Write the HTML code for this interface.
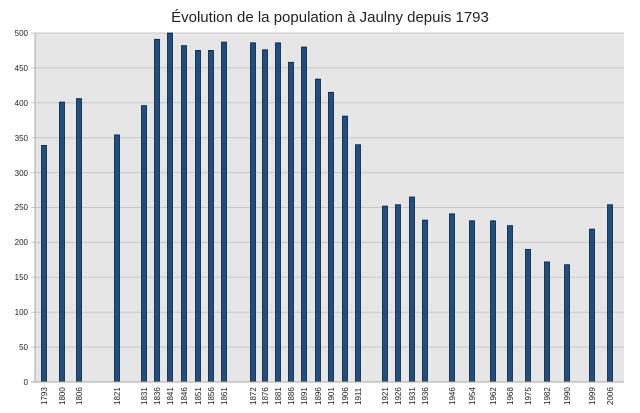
<!DOCTYPE html><html><head><style>body{margin:0;background:#fff}svg{display:block}text{font-family:"Liberation Sans",sans-serif;fill:#222}</style></head><body>
<svg width="640" height="413" xmlns="http://www.w3.org/2000/svg">
<text x="330" y="22" font-size="15" text-anchor="middle">Évolution de la population à Jaulny depuis 1793</text>
<rect x="35" y="33" width="589" height="349" fill="#e6e6e6"/>
<g stroke="#c8c8c8" stroke-width="1">
<line x1="31" x2="624" y1="347.1" y2="347.1"/><line x1="31" x2="624" y1="312.2" y2="312.2"/><line x1="31" x2="624" y1="277.3" y2="277.3"/><line x1="31" x2="624" y1="242.4" y2="242.4"/><line x1="31" x2="624" y1="207.5" y2="207.5"/><line x1="31" x2="624" y1="172.6" y2="172.6"/><line x1="31" x2="624" y1="137.7" y2="137.7"/><line x1="31" x2="624" y1="102.8" y2="102.8"/><line x1="31" x2="624" y1="67.9" y2="67.9"/><line x1="31" x2="624" y1="33" y2="33"/>
</g>
<g font-size="8" text-anchor="end">
<text x="28" y="385">0</text><text x="28" y="350">50</text><text x="28" y="315">100</text><text x="28" y="280">150</text><text x="28" y="245">200</text><text x="28" y="210">250</text><text x="28" y="176">300</text><text x="28" y="141">350</text><text x="28" y="106">400</text><text x="28" y="71">450</text><text x="28" y="36">500</text>
</g>
<g fill="#1f4e80" stroke="#0a1f3a" stroke-width="0.8">
<rect x="41.5" y="145.4" width="5" height="236.6"/>
<rect x="59.5" y="102.1" width="5" height="279.9"/>
<rect x="76.5" y="98.6" width="5" height="283.4"/>
<rect x="114.5" y="134.9" width="5" height="247.1"/>
<rect x="141.5" y="105.6" width="5" height="276.4"/>
<rect x="154.5" y="39.3" width="5" height="342.7"/>
<rect x="167.5" y="33" width="5" height="349"/>
<rect x="181.5" y="45.6" width="5" height="336.4"/>
<rect x="195.5" y="50.4" width="5" height="331.6"/>
<rect x="208.5" y="50.4" width="5" height="331.6"/>
<rect x="221.5" y="42.1" width="5" height="339.9"/>
<rect x="250.5" y="42.8" width="5" height="339.2"/>
<rect x="262.5" y="49.8" width="5" height="332.2"/>
<rect x="275.5" y="42.8" width="5" height="339.2"/>
<rect x="288.5" y="62.3" width="5" height="319.7"/>
<rect x="301.5" y="47" width="5" height="335"/>
<rect x="315.5" y="79.1" width="5" height="302.9"/>
<rect x="328.5" y="92.3" width="5" height="289.7"/>
<rect x="342.5" y="116.1" width="5" height="265.9"/>
<rect x="355.5" y="144.7" width="5" height="237.3"/>
<rect x="382.5" y="206.1" width="5" height="175.9"/>
<rect x="395.5" y="204.7" width="5" height="177.3"/>
<rect x="409.5" y="197" width="5" height="185"/>
<rect x="422.5" y="220.1" width="5" height="161.9"/>
<rect x="449.5" y="213.8" width="5" height="168.2"/>
<rect x="469.5" y="220.8" width="5" height="161.2"/>
<rect x="490.5" y="220.8" width="5" height="161.2"/>
<rect x="507.5" y="225.6" width="5" height="156.4"/>
<rect x="525.5" y="249.4" width="5" height="132.6"/>
<rect x="544.5" y="261.9" width="5" height="120.1"/>
<rect x="564.5" y="264.7" width="5" height="117.3"/>
<rect x="589.5" y="229.1" width="5" height="152.9"/>
<rect x="607.5" y="204.7" width="5" height="177.3"/>
</g>
<line x1="35" x2="35" y1="33" y2="382" stroke="#aaa"/><line x1="31" x2="624" y1="382" y2="382" stroke="#aaa"/>
<g font-size="8">
<text transform="translate(47,405) rotate(-90)">1793</text>
<text transform="translate(65,405) rotate(-90)">1800</text>
<text transform="translate(82,405) rotate(-90)">1806</text>
<text transform="translate(120,405) rotate(-90)">1821</text>
<text transform="translate(147,405) rotate(-90)">1831</text>
<text transform="translate(160,405) rotate(-90)">1836</text>
<text transform="translate(173,405) rotate(-90)">1841</text>
<text transform="translate(187,405) rotate(-90)">1846</text>
<text transform="translate(201,405) rotate(-90)">1851</text>
<text transform="translate(214,405) rotate(-90)">1856</text>
<text transform="translate(227,405) rotate(-90)">1861</text>
<text transform="translate(256,405) rotate(-90)">1872</text>
<text transform="translate(268,405) rotate(-90)">1876</text>
<text transform="translate(281,405) rotate(-90)">1881</text>
<text transform="translate(294,405) rotate(-90)">1886</text>
<text transform="translate(307,405) rotate(-90)">1891</text>
<text transform="translate(321,405) rotate(-90)">1896</text>
<text transform="translate(334,405) rotate(-90)">1901</text>
<text transform="translate(348,405) rotate(-90)">1906</text>
<text transform="translate(361,405) rotate(-90)">1911</text>
<text transform="translate(388,405) rotate(-90)">1921</text>
<text transform="translate(401,405) rotate(-90)">1926</text>
<text transform="translate(415,405) rotate(-90)">1931</text>
<text transform="translate(428,405) rotate(-90)">1936</text>
<text transform="translate(455,405) rotate(-90)">1946</text>
<text transform="translate(475,405) rotate(-90)">1954</text>
<text transform="translate(496,405) rotate(-90)">1962</text>
<text transform="translate(513,405) rotate(-90)">1968</text>
<text transform="translate(531,405) rotate(-90)">1975</text>
<text transform="translate(550,405) rotate(-90)">1982</text>
<text transform="translate(570,405) rotate(-90)">1990</text>
<text transform="translate(595,405) rotate(-90)">1999</text>
<text transform="translate(613,405) rotate(-90)">2006</text>
</g>
</svg></body></html>
